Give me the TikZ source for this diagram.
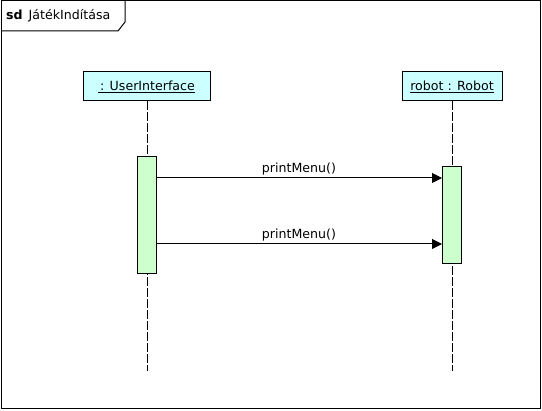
\documentclass[tikz,border=0pt]{standalone}
\usepackage{fontspec}
\setmainfont{DejaVu Sans}
\usetikzlibrary{arrows.meta}
\definecolor{objfill}{HTML}{CCFFFF}
\definecolor{actfill}{HTML}{CCFFCC}
\begin{document}
\begin{tikzpicture}[x=1pt,y=-1pt,
  txt/.style={font=\fontsize{12.6}{14}\selectfont},
  objbox/.style={draw=black,fill=objfill,line width=1pt,inner sep=0pt,txt},
  actbox/.style={draw=black,fill=actfill,line width=1pt,inner sep=0pt,minimum width=19pt},
  lifeline/.style={draw=black,line width=1pt,dash pattern=on 9pt off 2pt},
  msg/.style={draw=black,line width=1pt,-{Triangle[length=10pt,width=10pt]}},
  lbl/.style={txt,inner sep=0pt,anchor=base}]
\useasboundingbox (0,0) rectangle (542,411);
% frame
\draw[line width=1pt] (1,1) rectangle (540,409);
\draw[line width=1pt] (1,31) -- (118,31) -- (125,22) -- (125,1);
\node[txt,anchor=base west,inner sep=0pt] (title) at (6,20) {\textbf{sd}\hspace{6pt}JátékIndítása};
% objects
\node[objbox,minimum width=127pt,minimum height=29pt] (ui) at (146.5,86.5) {\underline{\hspace{2pt}: UserInterface}};
\node[objbox,minimum width=100pt,minimum height=29pt] (rb) at (452,86.5) {\underline{robot : Robot}};
% lifeline ends
\coordinate (uiend) at (147,371);
\coordinate (rbend) at (452,371);
\draw[lifeline] (ui.south -| uiend) -- (uiend);
\draw[lifeline] (rb.south) -- (rbend);
% activations
\node[actbox,minimum height=117pt] (uiact) at (147,215.5) {};
\node[actbox,minimum height=97pt] (rbact) at (452,215.5) {};
% messages
\coordinate (m1) at (300,178);
\coordinate (m2) at (300,244);
\draw[msg] (uiact.east |- m1) -- (rbact.west |- m1);
\draw[msg] (uiact.east |- m2) -- (rbact.west |- m2);
\node[lbl] (l1) at (299,173) {printMenu()};
\node[lbl] (l2) at (299,239) {printMenu()};
\end{tikzpicture}
\end{document}
